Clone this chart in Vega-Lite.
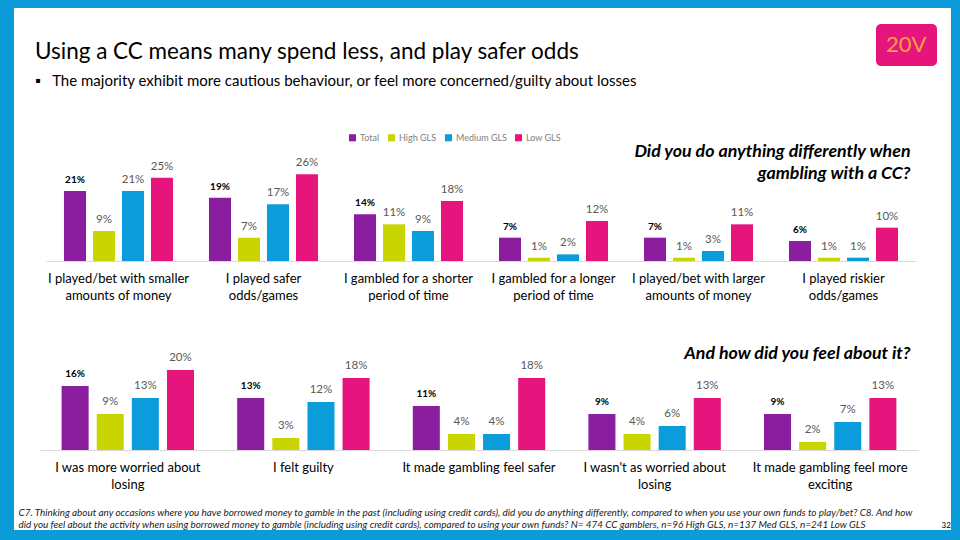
{
  "$schema": "https://vega.github.io/schema/vega-lite/v6.json",
  "width": 960,
  "height": 540,
  "autosize": {"type": "fit", "contains": "padding"},
  "padding": {"left": 14, "top": 8, "right": 9, "bottom": 10},
  "background": "#0A9BD8",
  "config": {"view": {"fill": "white", "stroke": null}, "font": "Lato"},
  "title": {
    "text": "Using a CC means many spend less, and play safer odds",
    "subtitle": "▪\u00a0\u00a0\u00a0The majority exhibit more cautious behaviour, or feel more concerned/guilty about losses",
    "anchor": "start",
    "frame": "group",
    "orient": "top",
    "offset": -81,
    "dx": 21,
    "fontSize": 22.5,
    "font": "Lato",
    "fontWeight": "normal",
    "color": "#000000",
    "subtitleFont": "Lato",
    "subtitleFontSize": 15,
    "subtitleColor": "#000000",
    "subtitlePadding": 11
  },
  "datasets": {
    "top": [
      {"item": "I played/bet with smaller|amounts of money", "group": "Total", "pct": 0.21},
      {"item": "I played/bet with smaller|amounts of money", "group": "High GLS", "pct": 0.09},
      {"item": "I played/bet with smaller|amounts of money", "group": "Medium GLS", "pct": 0.21},
      {"item": "I played/bet with smaller|amounts of money", "group": "Low GLS", "pct": 0.25},
      {"item": "I played safer|odds/games", "group": "Total", "pct": 0.19},
      {"item": "I played safer|odds/games", "group": "High GLS", "pct": 0.07},
      {"item": "I played safer|odds/games", "group": "Medium GLS", "pct": 0.17},
      {"item": "I played safer|odds/games", "group": "Low GLS", "pct": 0.26},
      {"item": "I gambled for a shorter|period of time", "group": "Total", "pct": 0.14},
      {"item": "I gambled for a shorter|period of time", "group": "High GLS", "pct": 0.11},
      {"item": "I gambled for a shorter|period of time", "group": "Medium GLS", "pct": 0.09},
      {"item": "I gambled for a shorter|period of time", "group": "Low GLS", "pct": 0.18},
      {"item": "I gambled for a longer|period of time", "group": "Total", "pct": 0.07},
      {"item": "I gambled for a longer|period of time", "group": "High GLS", "pct": 0.01},
      {"item": "I gambled for a longer|period of time", "group": "Medium GLS", "pct": 0.02},
      {"item": "I gambled for a longer|period of time", "group": "Low GLS", "pct": 0.12},
      {"item": "I played/bet with larger|amounts of money", "group": "Total", "pct": 0.07},
      {"item": "I played/bet with larger|amounts of money", "group": "High GLS", "pct": 0.01},
      {"item": "I played/bet with larger|amounts of money", "group": "Medium GLS", "pct": 0.03},
      {"item": "I played/bet with larger|amounts of money", "group": "Low GLS", "pct": 0.11},
      {"item": "I played riskier|odds/games", "group": "Total", "pct": 0.06},
      {"item": "I played riskier|odds/games", "group": "High GLS", "pct": 0.01},
      {"item": "I played riskier|odds/games", "group": "Medium GLS", "pct": 0.01},
      {"item": "I played riskier|odds/games", "group": "Low GLS", "pct": 0.10}
    ],
    "bottom": [
      {"item": "I was more worried about|losing", "group": "Total", "pct": 0.16},
      {"item": "I was more worried about|losing", "group": "High GLS", "pct": 0.09},
      {"item": "I was more worried about|losing", "group": "Medium GLS", "pct": 0.13},
      {"item": "I was more worried about|losing", "group": "Low GLS", "pct": 0.20},
      {"item": "I felt guilty", "group": "Total", "pct": 0.13},
      {"item": "I felt guilty", "group": "High GLS", "pct": 0.03},
      {"item": "I felt guilty", "group": "Medium GLS", "pct": 0.12},
      {"item": "I felt guilty", "group": "Low GLS", "pct": 0.18},
      {"item": "It made gambling feel safer", "group": "Total", "pct": 0.11},
      {"item": "It made gambling feel safer", "group": "High GLS", "pct": 0.04},
      {"item": "It made gambling feel safer", "group": "Medium GLS", "pct": 0.04},
      {"item": "It made gambling feel safer", "group": "Low GLS", "pct": 0.18},
      {"item": "I wasn't as worried about|losing", "group": "Total", "pct": 0.09},
      {"item": "I wasn't as worried about|losing", "group": "High GLS", "pct": 0.04},
      {"item": "I wasn't as worried about|losing", "group": "Medium GLS", "pct": 0.06},
      {"item": "I wasn't as worried about|losing", "group": "Low GLS", "pct": 0.13},
      {"item": "It made gambling feel more|exciting", "group": "Total", "pct": 0.09},
      {"item": "It made gambling feel more|exciting", "group": "High GLS", "pct": 0.02},
      {"item": "It made gambling feel more|exciting", "group": "Medium GLS", "pct": 0.07},
      {"item": "It made gambling feel more|exciting", "group": "Low GLS", "pct": 0.13}
    ]
  },
  "layer": [
    {
      "data": {"name": "top"},
      "encoding": {
        "x": {
          "field": "item", "type": "nominal", "sort": null,
          "scale": {"range": [32, 902], "paddingInner": 0.2, "paddingOuter": 0.1},
          "axis": {
            "orient": "bottom", "offset": -269,
            "labelExpr": "split(datum.value, '|')", "labelAngle": 0,
            "labelFontSize": 13, "labelLineHeight": 17, "labelPadding": 11,
            "labelBaseline": "top", "labelColor": "#000000", "labelLimit": 300,
            "labelOverlap": false, "ticks": false, "domainColor": "#D9D9D9", "grid": false,
            "title": "32", "titleX": 927, "titleY": 266, "titleFontSize": 8,
            "titleFontWeight": "normal", "titleAlign": "left", "titleBaseline": "alphabetic",
            "titleColor": "#000000"
          }
        },
        "xOffset": {
          "field": "group", "type": "nominal",
          "sort": ["Total", "High GLS", "Medium GLS", "Low GLS"],
          "scale": {"paddingInner": 0.24, "paddingOuter": 0.12}
        },
        "y": {
          "field": "pct", "type": "quantitative",
          "scale": {"domain": [0, 0.3], "range": [253, 153], "nice": false, "zero": true},
          "axis": {
            "orient": "left", "labels": false, "ticks": false, "domain": false, "grid": false,
            "title": ["Did you do anything differently when", "gambling with a CC?"],
            "titleAngle": 0, "titleX": 896, "titleY": 148, "titleAlign": "right",
            "titleBaseline": "alphabetic", "titleFontSize": 17.8, "titleFontWeight": "bold",
            "titleFontStyle": "italic", "titleLineHeight": 22, "titleColor": "#000000"
          }
        }
      },
      "layer": [
        {
          "mark": {"type": "bar"},
          "encoding": {
            "color": {
              "field": "group", "type": "nominal",
              "scale": {"domain": ["Total", "High GLS", "Medium GLS", "Low GLS"], "range": ["#8B1E9E", "#C9D500", "#0B9DDB", "#E6157E"]},
              "legend": {
                "orient": "none", "legendX": 334, "legendY": 125, "direction": "horizontal",
                "title": null, "symbolType": "square", "symbolSize": 50, "labelFontSize": 9,
                "labelColor": "#808080", "columnPadding": 7, "labelOffset": 3, "padding": 0,
                "symbolStrokeWidth": 0
              }
            },
            "strokeDash": {
              "datum": "20V",
              "legend": {
                "orient": "none", "legendX": 862, "legendY": 16, "title": null,
                "fillColor": "#E6157E", "padding": 10, "cornerRadius": 5,
                "labelFontSize": 22, "labelColor": "#F4A23C", "labelFont": "Lato",
                "symbolType": "circle", "symbolSize": 0.0001, "symbolOpacity": 0,
                "symbolStrokeWidth": 0, "labelOffset": -22, "symbolOffset": 0
              }
            }
          }
        },
        {
          "transform": [{"filter": "datum.group === 'Total'"}],
          "mark": {"type": "text", "fontWeight": "bold", "fontSize": 10, "dy": -8, "baseline": "alphabetic", "color": "#000000"},
          "encoding": {"text": {"field": "pct", "type": "quantitative", "format": ".0%"}}
        },
        {
          "transform": [{"filter": "datum.group !== 'Total'"}],
          "mark": {"type": "text", "fontSize": 11.5, "dy": -8, "baseline": "alphabetic", "color": "#595959"},
          "encoding": {"text": {"field": "pct", "type": "quantitative", "format": ".0%"}}
        }
      ]
    },
    {
      "data": {"name": "bottom"},
      "encoding": {
        "x": {
          "field": "item", "type": "nominal", "sort": null,
          "scale": {"range": [26, 904], "paddingInner": 0.2, "paddingOuter": 0.1},
          "axis": {
            "orient": "bottom", "offset": -80,
            "labelExpr": "split(datum.value, '|')", "labelAngle": 0,
            "labelFontSize": 13, "labelLineHeight": 17, "labelPadding": 11,
            "labelBaseline": "top", "labelColor": "#000000", "labelLimit": 300,
            "labelOverlap": false, "ticks": false, "domainColor": "#D9D9D9", "grid": false,
            "title": [
              "C7. Thinking about any occasions where you have borrowed money to gamble in the past (including using credit cards), did you do anything differently, compared to when you use your own funds to play/bet? C8. And how",
              "did you feel about the activity when using borrowed money to gamble (including using credit cards), compared to using your own funds? N= 474 CC gamblers, n=96 High GLS, n=137 Med GLS, n=241 Low GLS"
            ],
            "titleX": 4, "titleY": 65, "titleAlign": "left", "titleBaseline": "alphabetic",
            "titleFontSize": 9.9, "titleFontStyle": "italic", "titleFontWeight": "normal",
            "titleLineHeight": 12, "titleColor": "#1A1A1A", "titleLimit": 0
          }
        },
        "xOffset": {
          "field": "group", "type": "nominal",
          "sort": ["Total", "High GLS", "Medium GLS", "Low GLS"],
          "scale": {"paddingInner": 0.23, "paddingOuter": 0.115}
        },
        "y": {
          "field": "pct", "type": "quantitative",
          "scale": {"domain": [0, 0.22], "range": [442, 354], "nice": false, "zero": true},
          "axis": {
            "orient": "left", "labels": false, "ticks": false, "domain": false, "grid": false,
            "title": "And how did you feel about it?",
            "titleAngle": 0, "titleX": 896, "titleY": 350, "titleAlign": "right",
            "titleBaseline": "alphabetic", "titleFontSize": 17.8, "titleFontWeight": "bold",
            "titleFontStyle": "italic", "titleColor": "#000000"
          }
        }
      },
      "layer": [
        {
          "mark": {"type": "bar"},
          "encoding": {
            "color": {
              "field": "group", "type": "nominal",
              "scale": {"domain": ["Total", "High GLS", "Medium GLS", "Low GLS"], "range": ["#8B1E9E", "#C9D500", "#0B9DDB", "#E6157E"]},
              "legend": {
                "orient": "none", "legendX": 334, "legendY": 125, "direction": "horizontal",
                "title": null, "symbolType": "square", "symbolSize": 50, "labelFontSize": 9,
                "labelColor": "#808080", "columnPadding": 7, "labelOffset": 3, "padding": 0,
                "symbolStrokeWidth": 0
              }
            }
          }
        },
        {
          "transform": [{"filter": "datum.group === 'Total'"}],
          "mark": {"type": "text", "fontWeight": "bold", "fontSize": 10, "dy": -9, "baseline": "alphabetic", "color": "#000000"},
          "encoding": {"text": {"field": "pct", "type": "quantitative", "format": ".0%"}}
        },
        {
          "transform": [{"filter": "datum.group !== 'Total'"}],
          "mark": {"type": "text", "fontSize": 11.5, "dy": -9, "baseline": "alphabetic", "color": "#595959"},
          "encoding": {"text": {"field": "pct", "type": "quantitative", "format": ".0%"}}
        }
      ]
    }
  ],
  "resolve": {
    "scale": {"x": "independent", "y": "independent", "xOffset": "independent"},
    "axis": {"x": "independent", "y": "independent"}
  }
}
